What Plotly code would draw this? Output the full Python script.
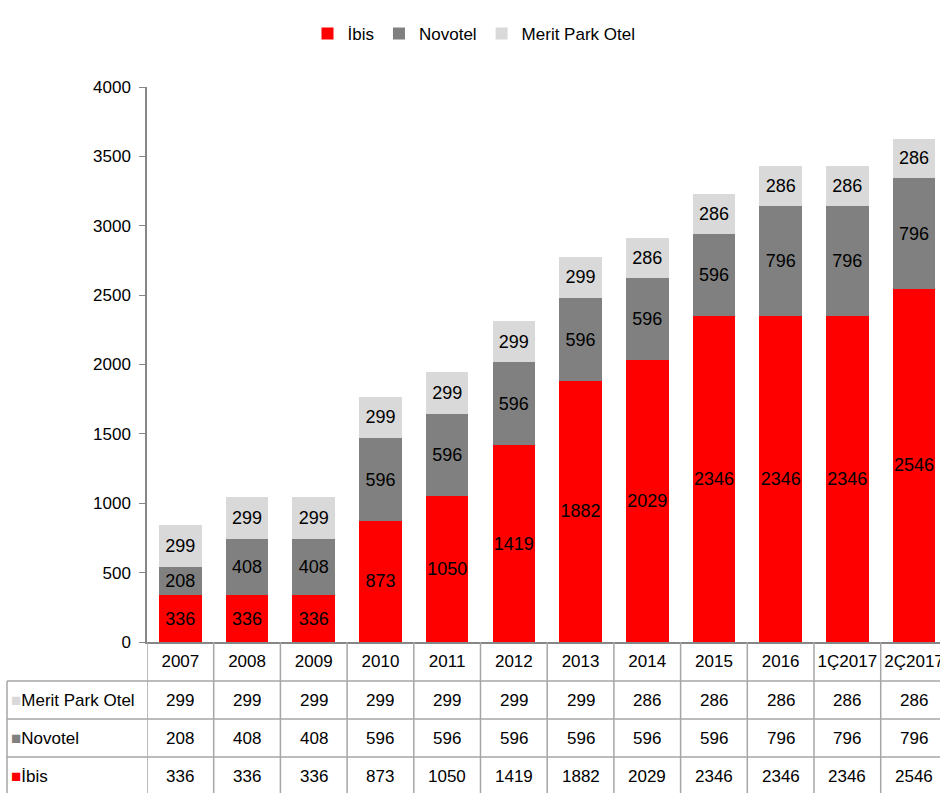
import plotly.graph_objects as go

categories = ["2007", "2008", "2009", "2010", "2011", "2012", "2013", "2014", "2015", "2016", "1Ç2017", "2Ç2017"]
ibis = [336, 336, 336, 873, 1050, 1419, 1882, 2029, 2346, 2346, 2346, 2546]
novotel = [208, 408, 408, 596, 596, 596, 596, 596, 596, 796, 796, 796]
merit = [299, 299, 299, 299, 299, 299, 299, 286, 286, 286, 286, 286]
series_names = ["İbis", "Novotel", "Merit Park Otel"]
colors = ["#ff0000", "#808080", "#d9d9d9"]
y_ticks = [0, 500, 1000, 1500, 2000, 2500, 3000, 3500, 4000]

FONT = "Liberation Sans, Arial, sans-serif"
FS = 17
W, H = 940, 793
ML, MR, MT, MB = 147, 0, 87, 151
PW = W - ML - MR
PH = H - MT - MB

xs = list(range(len(categories)))
fig = go.Figure()
for name, vals, col in zip(series_names, [ibis, novotel, merit], colors):
    fig.add_trace(go.Bar(
        x=xs, y=vals, name=name, marker=dict(color=col, line=dict(width=0)),
        text=[str(v) for v in vals], textposition="inside", insidetextanchor="middle",
        textangle=0, textfont=dict(color="black", size=FS + 1, family=FONT),
    ))

def px_to_paper_y(py):
    return (H - MB - py) / PH

def px_to_paper_x(px):
    return (px - ML) / PW

xmax = -0.5 + PW / 66.7

shapes = []
line_col = "#a6a6a6"
left_x = px_to_paper_x(7)
bottom_y = px_to_paper_y(H + 5)
row_tops = [681, 719, 757]
for ry in row_tops:
    shapes.append(dict(type="line", xref="paper", yref="paper", x0=left_x, x1=1.02,
                       y0=px_to_paper_y(ry), y1=px_to_paper_y(ry), line=dict(color=line_col, width=1.5)))
shapes.append(dict(type="line", xref="paper", yref="paper", x0=left_x, x1=left_x,
                   y0=px_to_paper_y(681), y1=bottom_y, line=dict(color=line_col, width=1.5)))
for i in range(len(categories)):
    shapes.append(dict(type="line", xref="x", yref="paper", x0=i - 0.5, x1=i - 0.5,
                       y0=0, y1=bottom_y, line=dict(color=line_col, width=1.5)))

annotations = []
row_centers = [700, 738, 776]
row_series = [(series_names[2], merit, colors[2]), (series_names[1], novotel, colors[1]), (series_names[0], ibis, colors[0])]
for (name, vals, col), cy in zip(row_series, row_centers):
    yp = px_to_paper_y(cy)
    annotations.append(dict(xref="paper", yref="paper", x=px_to_paper_x(9), y=yp, xanchor="left", yanchor="middle",
                            showarrow=False, text=f"<span style='color:{col}'>■</span>{name}",
                            font=dict(size=FS, family=FONT, color="black")))
    for i, v in enumerate(vals):
        annotations.append(dict(xref="x", yref="paper", x=i, y=yp, xanchor="center", yanchor="middle",
                                showarrow=False, text=str(v), font=dict(size=FS, family=FONT, color="black")))

fig.update_layout(
    width=W, height=H, barmode="stack", bargap=0.36,
    margin=dict(l=ML, r=MR, t=MT, b=MB, pad=0, autoexpand=False),
    paper_bgcolor="white", plot_bgcolor="white",
    font=dict(family=FONT, size=FS, color="black"),
    uniformtext=dict(minsize=FS, mode="show"),
    legend=dict(orientation="h", x=px_to_paper_x(474), xanchor="center", y=px_to_paper_y(34), yanchor="middle",
                font=dict(size=FS, family=FONT, color="black"), traceorder="normal", itemclick=False,
                itemwidth=30, tracegroupgap=0),
    xaxis=dict(tickmode="array", tickvals=xs, ticktext=categories, range=[-0.5, xmax],
               showline=True, linecolor="#868686", linewidth=1.5, ticks="", showgrid=False,
               zeroline=False, tickfont=dict(size=FS, family=FONT, color="black"), ticklabelstandoff=3,
               ticklabeloverflow="allow", automargin=False),
    yaxis=dict(range=[0, 4000], tickmode="array", tickvals=y_ticks, showline=True, linecolor="#868686",
               linewidth=1.5, ticks="outside", ticklen=6, tickcolor="#868686", showgrid=False, zeroline=False,
               tickfont=dict(size=FS, family=FONT, color="black"), ticklabelstandoff=5, automargin=False),
    shapes=shapes, annotations=annotations,
)
fig.write_html("out.html")
